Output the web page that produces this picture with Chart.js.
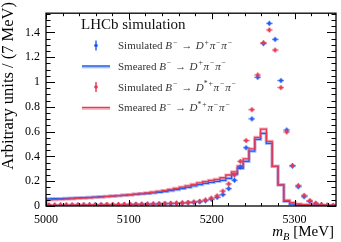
<!DOCTYPE html>
<html><head><meta charset="utf-8">
<script src="https://cdn.jsdelivr.net/npm/chart.js@4.4.1/dist/chart.umd.min.js"></script>
<style>html,body{margin:0;padding:0;background:#fff;}#wrap{width:341px;height:242px;position:relative;}</style>
</head><body><div id="wrap"><canvas id="c" width="341" height="242"></canvas></div>
<script>
// ---- data (bins of 7 MeV) ----
const binWidth = 7;
const binCenters = [5003.5,5010.5,5017.5,5024.5,5031.5,5038.5,5045.5,5052.5,5059.5,5066.5,
5073.5,5080.5,5087.5,5094.5,5101.5,5108.5,5115.5,5122.5,5129.5,5136.5,
5143.5,5150.5,5157.5,5164.5,5171.5,5178.5,5185.5,5192.5,5199.5,5206.5,
5213.5,5220.5,5227.5,5234.5,5241.5,5248.5,5255.5,5262.5,5269.5,5276.5,
5283.5,5290.5,5297.5,5304.5,5311.5,5318.5,5325.5,5332.5,5339.5,5346.5];
const simDplus = [0.006,0.006,0.007,0.007,0.007,0.008,0.008,0.008,0.009,0.009,
0.010,0.010,0.011,0.011,0.012,0.013,0.013,0.014,0.015,0.016,
0.018,0.019,0.021,0.023,0.026,0.029,0.034,0.042,0.054,0.070,
0.092,0.140,0.208,0.315,0.470,0.703,1.038,1.310,1.473,1.344,
1.012,0.613,0.322,0.155,0.075,0.036,0.018,0.009,0.005,0.003];
const smearDplus = [0.056,0.057,0.059,0.060,0.062,0.064,0.066,0.068,0.070,0.072,
0.075,0.077,0.080,0.083,0.086,0.089,0.093,0.097,0.101,0.106,
0.111,0.117,0.124,0.132,0.141,0.151,0.162,0.172,0.182,0.190,
0.198,0.207,0.222,0.258,0.304,0.360,0.443,0.537,0.585,0.505,
0.320,0.170,0.038,0.015,0.008,0.005,0.003,0.002,0.001,0.001];
const simDstar = [0.008,0.008,0.008,0.009,0.009,0.009,0.010,0.010,0.011,0.011,
0.012,0.012,0.013,0.014,0.014,0.015,0.016,0.017,0.018,0.019,
0.021,0.022,0.024,0.026,0.029,0.033,0.038,0.049,0.064,0.082,
0.120,0.178,0.250,0.360,0.528,0.777,1.057,1.317,1.420,1.258,
0.955,0.597,0.327,0.165,0.086,0.044,0.023,0.013,0.008,0.005];
const smearDstar = [0.048,0.050,0.052,0.054,0.056,0.058,0.061,0.063,0.066,0.069,
0.072,0.075,0.079,0.083,0.087,0.091,0.096,0.101,0.106,0.112,
0.118,0.125,0.133,0.142,0.152,0.163,0.175,0.186,0.197,0.206,
0.214,0.228,0.250,0.276,0.322,0.380,0.460,0.553,0.620,0.522,
0.320,0.170,0.045,0.027,0.016,0.011,0.008,0.006,0.004,0.003];
const xTickLabels = [5000,5100,5200,5300];
const yTickLabels = [0,0.2,0.4,0.6,0.8,1,1.2,1.4];
const legendTitle = 'LHCb simulation';
const legendLabels = [
  [{t:'Simulated '},{t:'B',it:1},{t:'\u2212',sup:1},{t:'\u2192',rel:1},{t:'D',it:1},{t:'+',sup:1},{t:'\u03c0',it:1},{t:'\u2212',sup:1},{t:'\u03c0',it:1},{t:'\u2212',sup:1}],
  [{t:'Smeared '},{t:'B',it:1},{t:'\u2212',sup:1},{t:'\u2192',rel:1},{t:'D',it:1},{t:'+',sup:1},{t:'\u03c0',it:1},{t:'\u2212',sup:1},{t:'\u03c0',it:1},{t:'\u2212',sup:1}],
  [{t:'Simulated '},{t:'B',it:1},{t:'\u2212',sup:1},{t:'\u2192',rel:1},{t:'D',it:1},{t:'*',sup:1,w:0.35},{t:'+',sup:1},{t:'\u03c0',it:1},{t:'\u2212',sup:1},{t:'\u03c0',it:1},{t:'\u2212',sup:1}],
  [{t:'Smeared '},{t:'B',it:1},{t:'\u2212',sup:1},{t:'\u2192',rel:1},{t:'D',it:1},{t:'*',sup:1,w:0.35},{t:'+',sup:1},{t:'\u03c0',it:1},{t:'\u2212',sup:1},{t:'\u03c0',it:1},{t:'\u2212',sup:1}]
];
const yTitle = 'Arbitrary units / (7 MeV)';
const xTitle = [{t:'m',it:1},{t:'B',it:1,sub:1},{t:' [MeV]'}];

// ---- styles ----
const FAM = '"Liberation Serif", "Times New Roman", serif';
const BLUE = '#1f5cf2', BLUE_L = 'rgba(120,160,255,0.65)';
const RED = '#e63a52', RED_L = 'rgba(245,140,160,0.65)';

function makeMarker(color){
  const c = document.createElement('canvas'); c.width = 7; c.height = 7;
  const g = c.getContext('2d'); g.fillStyle = color;
  g.fillRect(0.5, 2.8, 6, 1.4);
  g.fillRect(2.8, 1, 1.4, 5);
  g.beginPath(); g.arc(3.5, 3.5, 1.7, 0, Math.PI*2); g.fill();
  return c;
}
function histPoints(vals){
  const pts = [{x: binCenters[0]-binWidth/2, y: 0}];
  vals.forEach((v,i)=>pts.push({x: binCenters[i]-binWidth/2, y: v}));
  pts.push({x: binCenters[vals.length-1]+binWidth/2, y: vals[vals.length-1]});
  return pts;
}
function simPoints(vals){ return vals.map((v,i)=>({x: binCenters[i], y: v})); }

// rich text: math-like spacing (sup operators are wide, relations get space)
function segLayout(ctx, s, size){
  const sz = (s.sup||s.sub) ? size*0.7 : size;
  ctx.font = (s.it?'italic ':'') + sz + 'px ' + FAM;
  const gw = ctx.measureText(s.t).width;
  let adv = gw;
  if (s.sup && (s.t === '\u2212' || s.t === '+')) adv = 0.55*size;
  if (s.w) adv = s.w*size;
  if (s.rel) adv = gw + 0.6*size;
  return {gw, adv, dy: s.sup ? -size*0.38 : (s.sub ? size*0.25 : 0)};
}
function drawRich(ctx, x, y, segs, size){
  for (const s of segs){
    const L = segLayout(ctx, s, size);
    ctx.fillText(s.t, x + (L.adv - L.gw)/2, y + L.dy);
    x += L.adv;
  }
  return x;
}
function richWidth(ctx, segs, size){
  let w = 0;
  for (const s of segs) w += segLayout(ctx, s, size).adv;
  return w;
}

const decor = {
  id: 'decor',
  afterDraw(chart){
    const ctx = chart.ctx, a = chart.chartArea;
    const xs = chart.scales.x, ys = chart.scales.y;
    ctx.save();
    // frame
    ctx.strokeStyle = '#000'; ctx.lineWidth = 1.3;
    ctx.strokeRect(a.left, a.top, a.right-a.left, a.bottom-a.top);
    // ticks
    ctx.lineWidth = 1;
    ctx.beginPath();
    for (let v = 5000; v <= 5350; v += 20){
      const p = Math.round(xs.getPixelForValue(v))+0.5;
      const L = (v % 100 === 0) ? 6 : 3;
      ctx.moveTo(p, a.bottom); ctx.lineTo(p, a.bottom-L);
      ctx.moveTo(p, a.top); ctx.lineTo(p, a.top+L);
    }
    for (let k = 0; k <= 31; k++){
      const v = k*0.05;
      if (v > ys.max) break;
      const p = Math.round(ys.getPixelForValue(v))+0.5;
      const L = (k % 4 === 0) ? 9 : 4.5;
      ctx.moveTo(a.left, p); ctx.lineTo(a.left+L, p);
      ctx.moveTo(a.right, p); ctx.lineTo(a.right-L, p);
    }
    ctx.stroke();
    // axis titles
    ctx.fillStyle = '#000';
    ctx.textBaseline = 'alphabetic';
    ctx.save();
    ctx.translate(13, 2); ctx.rotate(-Math.PI/2);
    ctx.textAlign = 'right';
    ctx.font = '16.5px ' + FAM;
    ctx.fillText(yTitle, 0, 0);
    ctx.restore();
    ctx.textAlign = 'left';
    const xw = richWidth(ctx, xTitle, 15);
    drawRich(ctx, 334 - xw, 236, xTitle, 15);
    // legend
    ctx.fillStyle = '#111';
    ctx.font = '15px ' + FAM;
    ctx.fillText(legendTitle, 81, 29);
    const rows = [45.5, 66, 87, 107.5];
    const cols = [BLUE, BLUE, RED, RED];
    const lights = [BLUE_L, BLUE_L, RED_L, RED_L];
    rows.forEach((cy, i) => {
      if (i % 2 === 0){
        ctx.fillStyle = cols[i];
        ctx.fillRect(95.3, cy-5, 1.4, 10);
        ctx.fillRect(94.5, cy-0.7, 3, 1.4);
        ctx.beginPath(); ctx.arc(96, cy, 1.7, 0, Math.PI*2); ctx.fill();
      } else {
        ctx.strokeStyle = lights[i]; ctx.lineWidth = 3.2;
        ctx.beginPath(); ctx.moveTo(82, cy+0.8); ctx.lineTo(110, cy+0.8); ctx.stroke();
        ctx.strokeStyle = cols[i]; ctx.lineWidth = 1.3;
        ctx.beginPath(); ctx.moveTo(82, cy); ctx.lineTo(110, cy); ctx.stroke();
      }
      ctx.fillStyle = '#333';
      drawRich(ctx, 118, cy+3.5, legendLabels[i], 11);
    });
    ctx.restore();
  }
};

Chart.defaults.font.family = FAM;
Chart.defaults.color = '#000';

new Chart(document.getElementById('c'), {
  type: 'scatter',
  data: { datasets: [
    { label: 'Simulated D*', data: simPoints(simDstar), pointStyle: makeMarker(RED), pointRadius: 3.5, showLine: false, order: 0 },
    { label: 'Simulated D+', data: simPoints(simDplus), pointStyle: makeMarker(BLUE), pointRadius: 3.5, showLine: false, order: 1 },
    { label: 'Smeared D*', data: histPoints(smearDstar), showLine: true, stepped: 'after', borderColor: RED, borderWidth: 1.3, pointRadius: 0, fill: false, order: 2 },
    { label: 'Smeared D+', data: histPoints(smearDplus), showLine: true, stepped: 'after', borderColor: BLUE, borderWidth: 1.3, pointRadius: 0, fill: false, order: 3 },
    { label: 'band D*', data: histPoints(smearDstar), showLine: true, stepped: 'after', borderColor: RED_L, borderWidth: 3.2, pointRadius: 0, fill: false, order: 4 },
    { label: 'band D+', data: histPoints(smearDplus), showLine: true, stepped: 'after', borderColor: BLUE_L, borderWidth: 3.2, pointRadius: 0, fill: false, order: 5 }
  ]},
  options: {
    responsive: false, animation: false, devicePixelRatio: 1,
    layout: { padding: { top: 1, right: 1, left: 0, bottom: 0 } },
    plugins: { legend: { display: false }, tooltip: { enabled: false } },
    scales: {
      x: { type: 'linear', min: 5000, max: 5350,
        afterBuildTicks: s => { s.ticks = xTickLabels.map(v => ({value: v})); },
        afterFit: s => { s.height = 36; },
        grid: { display: false, drawTicks: false }, border: { display: false },
        ticks: { autoSkip: false, maxRotation: 0, padding: 7, font: { size: 12 }, color: '#000', callback: v => String(v) } },
      y: { type: 'linear', min: 0, max: 1.555,
        afterBuildTicks: s => { s.ticks = yTickLabels.map(v => ({value: v})); },
        afterFit: s => { s.width = 46; },
        grid: { display: false, drawTicks: false }, border: { display: false },
        ticks: { autoSkip: false, padding: 6, font: { size: 12 }, color: '#000', callback: v => String(v) } }
    }
  },
  plugins: [decor]
});
</script></body></html>
